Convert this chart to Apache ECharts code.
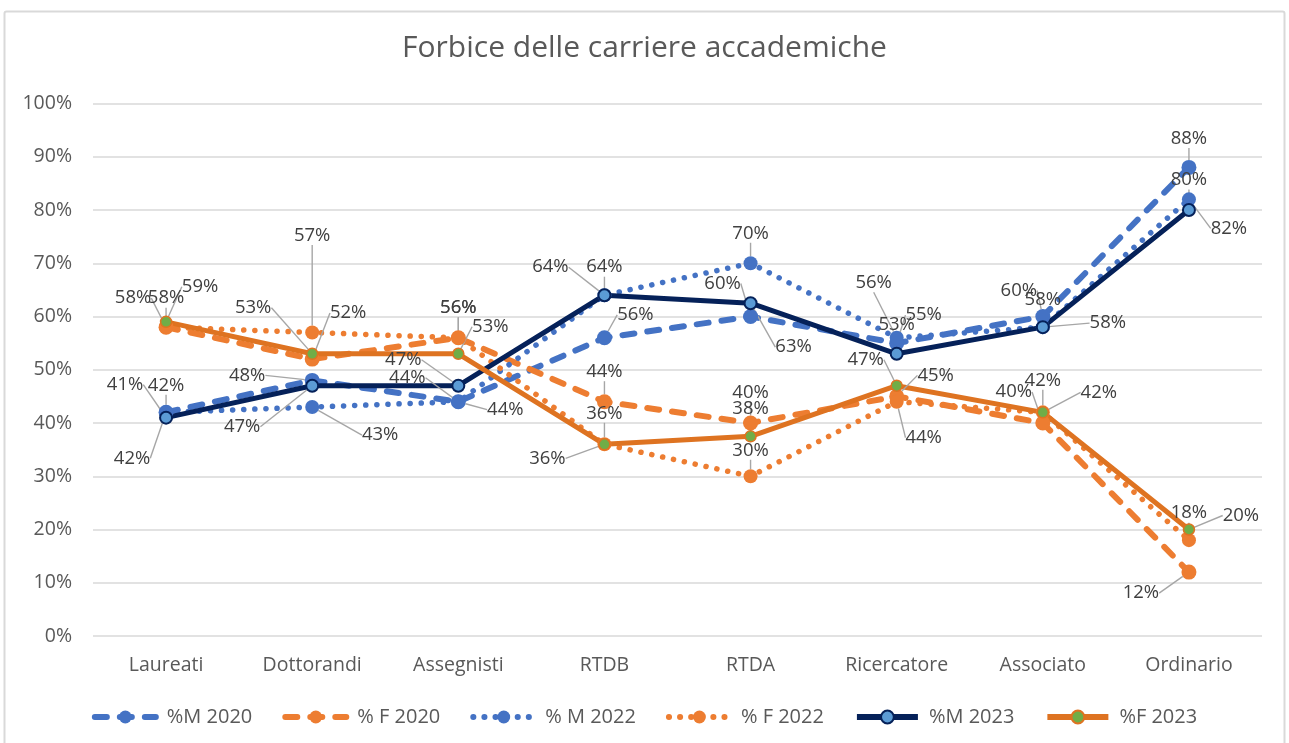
<!DOCTYPE html>
<html>
<head>
<meta charset="utf-8">
<script src="https://cdn.jsdelivr.net/npm/echarts@6/dist/echarts.min.js"></script>
<style>html,body{margin:0;padding:0;background:#fff}#c{width:1289px;height:743px}</style>
</head>
<body>
<div id="c"></div>
<script>
const categories = ['Laureati','Dottorandi','Assegnisti','RTDB','RTDA','Ricercatore','Associato','Ordinario'];
const seriesNames = ['%M 2020','% F 2020','% M 2022','% F 2022','%M 2023','%F 2023'];
const m2020 = [42,48,44,56,60,55,60,88];
const f2020 = [58,52,56,44,40,45,40,12];
const m2022 = [42,43,44,64,70,56,58,82];
const f2022 = [58,57,56,36,30,44,42,18];
const m2023 = [41,47,47,64,62.5,53,58,80];
const f2023 = [59,53,53,36,37.5,47,42,20];
const yTicks = [0,10,20,30,40,50,60,70,80,90,100];

// label offsets (layout only), [dx,dy] per point relative to the marker
const labelOffsets = [
  [[0,-27],[-65,-5],[47,8],[31,-23],[-28,-33],[27,-28],[-24,-26],[0,-29]],
  [[-33,-29],[36,-46],[0,-30],[0,-30],[0,-30],[39,-21],[-29,-31],[-48,21]],
  [[-34,46],[68,28],[-51,-24],[-54,-28],[0,-30],[-23,-55],[0,-27],[40,29]],
  [[0,-29],[0,-97],[0,-30],[0,-31],[0,-26],[27,36],[0,-32],[0,-27]],
  [[-41,-33],[-70,41],[-55,-26],[0,-28],[43,44],[0,-29],[65,-4],[0,-30]],
  [[34,-35],[-59,-46],[32,-27],[-57,14],[0,-28],[-31,-26],[56,-20],[52,-14]]
];

const FONT = '"Open Sans", sans-serif';
const blue = '#4472C4', orange = '#ED7D31', navy = '#052159', dorange = '#DE7321';

function mk(name, data, line, symSize, symStyle) {
  return {
    name, type: 'line', data,
    symbol: 'circle', symbolSize: symSize,
    lineStyle: line,
    itemStyle: symStyle,
    label: {
      show: true, position: 'inside',
      formatter: p => Math.round(p.value) + '%',
      color: '#404040', fontSize: 18.5, fontFamily: FONT
    },
    labelLine: { show: true, lineStyle: { color: '#A6A6A6', width: 1.4 } },
    emphasis: { disabled: true },
    animation: false
  };
}

const dashed = [12, 13], dotted = [0.1, 11];
const series = [
  mk(seriesNames[0], m2020, {color: blue, width: 6, type: dashed, cap: 'round'}, 15, {color: blue}),
  mk(seriesNames[1], f2020, {color: orange, width: 6, type: dashed, cap: 'round'}, 15, {color: orange}),
  mk(seriesNames[2], m2022, {color: blue, width: 5.5, type: dotted, cap: 'round'}, 14, {color: blue}),
  mk(seriesNames[3], f2022, {color: orange, width: 5.5, type: dotted, cap: 'round'}, 14, {color: orange}),
  mk(seriesNames[4], m2023, {color: navy, width: 5, type: 'solid'}, 12, {color: '#5B9BD5', borderColor: navy, borderWidth: 2}),
  mk(seriesNames[5], f2023, {color: dorange, width: 5, type: 'solid'}, 11, {color: '#70AD47', borderColor: dorange, borderWidth: 1.5})
];

const chart = echarts.init(document.getElementById('c'), null, {renderer: 'canvas'});
chart.setOption({
  backgroundColor: '#fff',
  animation: false,
  graphic: [{
    type: 'rect', silent: true,
    shape: {x: 4.5, y: 11.5, width: 1280, height: 760, r: 2},
    style: {fill: 'none', stroke: '#D9D9D9', lineWidth: 2}
  }],
  title: {
    text: 'Forbice delle carriere accademiche',
    left: 'center', top: 28,
    textStyle: {fontSize: 30, fontWeight: 'normal', color: '#595959', fontFamily: FONT}
  },
  legend: {
    top: 702, left: 'center',
    itemWidth: 61, itemHeight: 16, itemGap: 30,
    lineStyle: {width: 6},
    textStyle: {fontSize: 20, color: '#595959', fontFamily: FONT, padding: [0, 0, 0, 6]},
    data: seriesNames
  },
  grid: {left: 93, right: 27, top: 103.5, bottom: 107, containLabel: false},
  xAxis: {
    type: 'category', data: categories, boundaryGap: true,
    axisLine: {show: false}, axisTick: {show: false},
    axisLabel: {color: '#595959', fontSize: 19.5, fontFamily: FONT, margin: 19}
  },
  yAxis: {
    type: 'value', min: yTicks[0], max: yTicks[yTicks.length - 1], interval: 10,
    axisLine: {show: false}, axisTick: {show: false},
    axisLabel: {formatter: '{value}%', color: '#595959', fontSize: 19.5, fontFamily: FONT, margin: 21},
    splitLine: {lineStyle: {color: '#D9D9D9', width: 1.5}}
  },
  labelLayout: function (p) {
    const o = labelOffsets[p.seriesIndex][p.dataIndex];
    return {dx: o[0], dy: o[1]};
  },
  series
});
</script>
</body>
</html>
